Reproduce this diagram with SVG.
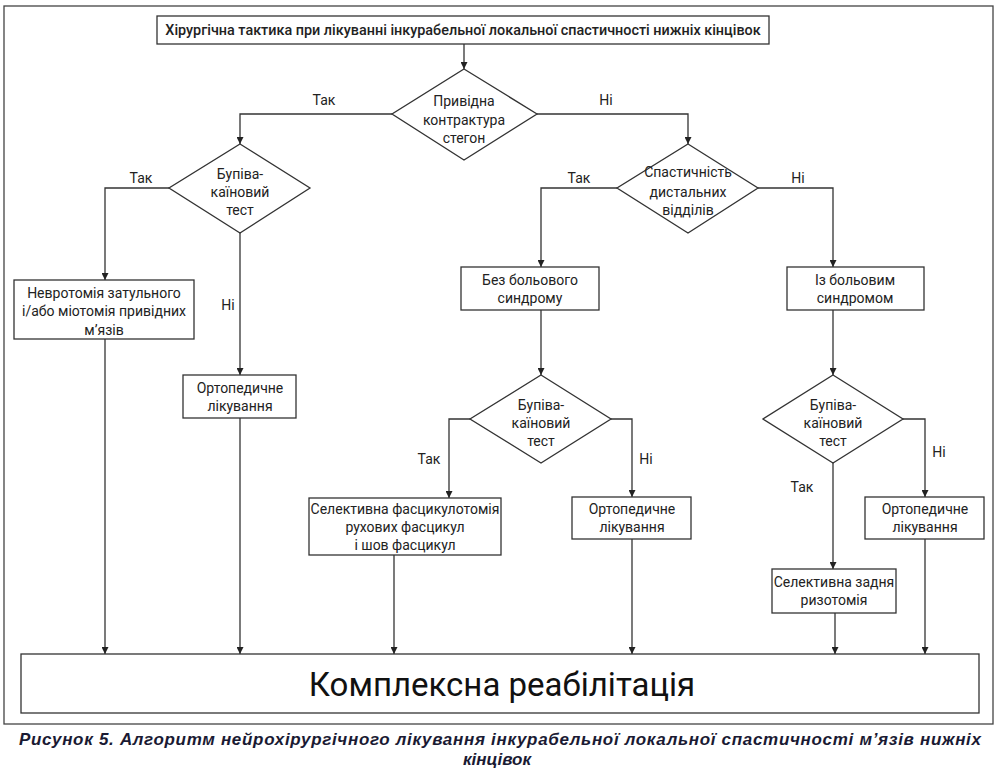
<svg xmlns="http://www.w3.org/2000/svg" width="1000" height="769" viewBox="0 0 1000 769">
<style>
  .box{fill:#fff;stroke:#333;stroke-width:1.3}
  .frame{fill:#fff;stroke:#444;stroke-width:1.3}
  .t{font-family:Roboto,"Liberation Sans",sans-serif;font-size:14px;fill:#222;text-anchor:middle}
  .title{font-weight:500;font-size:14.4px}
  .big{font-size:33px;fill:#111}
  .lbl{font-family:Roboto,"Liberation Sans",sans-serif;font-size:14px;fill:#222;text-anchor:middle}
  .cap{font-family:"Liberation Sans",Arial,sans-serif;font-size:17px;font-weight:bold;font-style:italic;fill:#1a1a33;text-anchor:middle}
  .c{fill:none;stroke:#333;stroke-width:1.3}
</style>
<defs>
  <marker id="ah" viewBox="0 0 10 10" refX="10" refY="5" markerWidth="7" markerHeight="7" markerUnits="userSpaceOnUse" orient="auto">
    <path d="M0,0 L10,5 L0,10 z" fill="#222"/>
  </marker>
</defs>
<rect width="1000" height="769" fill="#fff"/>
<rect x="4" y="6" width="989" height="718" class="frame"/>

<g id="connectors">
  <path class="c" d="M464,44 V69" marker-end="url(#ah)"/>
  <path class="c" d="M392,114 H240 V144" marker-end="url(#ah)"/>
  <path class="c" d="M537,114 H688 V144" marker-end="url(#ah)"/>
  <path class="c" d="M169,188 H105 V280" marker-end="url(#ah)"/>
  <path class="c" d="M240,233 V375" marker-end="url(#ah)"/>
  <path class="c" d="M617,188 H541 V267" marker-end="url(#ah)"/>
  <path class="c" d="M758,188 H833 V267" marker-end="url(#ah)"/>
  <path class="c" d="M541,310 V375" marker-end="url(#ah)"/>
  <path class="c" d="M833,310 V375" marker-end="url(#ah)"/>
  <path class="c" d="M470,419 H449 V498" marker-end="url(#ah)"/>
  <path class="c" d="M611,419 H632 V497" marker-end="url(#ah)"/>
  <path class="c" d="M903,419 H925 V497" marker-end="url(#ah)"/>
  <path class="c" d="M833,463 V569" marker-end="url(#ah)"/>
  <path class="c" d="M105,339 V654" marker-end="url(#ah)"/>
  <path class="c" d="M240,418 V654" marker-end="url(#ah)"/>
  <path class="c" d="M394,555 V654" marker-end="url(#ah)"/>
  <path class="c" d="M632,539 V654" marker-end="url(#ah)"/>
  <path class="c" d="M835,613 V654" marker-end="url(#ah)"/>
  <path class="c" d="M925,539 V654" marker-end="url(#ah)"/>
  <text class="lbl" x="324" y="105">Так</text>
  <text class="lbl" x="606" y="105">Ні</text>
  <text class="lbl" x="141" y="183">Так</text>
  <text class="lbl" x="579" y="183">Так</text>
  <text class="lbl" x="798" y="183">Ні</text>
  <text class="lbl" x="228" y="310">Ні</text>
  <text class="lbl" x="429" y="464">Так</text>
  <text class="lbl" x="646" y="464">Ні</text>
  <text class="lbl" x="939" y="457">Ні</text>
  <text class="lbl" x="802" y="492">Так</text>
</g>

<g id="title">
  <rect x="157" y="16" width="612" height="28" class="box"/>
  <text class="t title" x="463" y="35">Хірургічна тактика при лікуванні інкурабельної локальної спастичності нижніх кінцівок</text>
</g>

<g id="d1">
  <polygon points="464,69 537,114 464,160 392,114" class="box"/>
  <text class="t" x="464" y="106">Привідна</text>
  <text class="t" x="464" y="125">контрактура</text>
  <text class="t" x="464" y="143">стегон</text>
</g>

<g id="d2">
  <polygon points="240,144 310,188 240,233 169,188" class="box"/>
  <text class="t" x="240" y="179">Бупіва-</text>
  <text class="t" x="240" y="197">каїновий</text>
  <text class="t" x="240" y="215">тест</text>
</g>

<g id="d3">
  <polygon points="688,144 758,188 688,233 617,188" class="box"/>
  <text class="t" x="688" y="177">Спастичність</text>
  <text class="t" x="688" y="197">дистальних</text>
  <text class="t" x="688" y="215">відділів</text>
</g>

<g id="n1">
  <rect x="14" y="280" width="180" height="59" class="box"/>
  <text class="t" x="104" y="298">Невротомія затульного</text>
  <text class="t" x="104" y="316">і/або міотомія привідних</text>
  <text class="t" x="104" y="335">м’язів</text>
</g>

<g id="n2">
  <rect x="183" y="375" width="113" height="43" class="box"/>
  <text class="t" x="240" y="393">Ортопедичне</text>
  <text class="t" x="240" y="411">лікування</text>
</g>

<g id="n3">
  <rect x="461" y="267" width="138" height="43" class="box"/>
  <text class="t" x="530" y="285">Без больового</text>
  <text class="t" x="530" y="303">синдрому</text>
</g>

<g id="n4">
  <rect x="787" y="267" width="137" height="43" class="box"/>
  <text class="t" x="855" y="285">Із больовим</text>
  <text class="t" x="855" y="303">синдромом</text>
</g>

<g id="d4">
  <polygon points="541,375 611,419 541,463 470,419" class="box"/>
  <text class="t" x="541" y="410">Бупіва-</text>
  <text class="t" x="541" y="428">каїновий</text>
  <text class="t" x="541" y="446">тест</text>
</g>

<g id="d5">
  <polygon points="833,375 903,419 833,463 763,419" class="box"/>
  <text class="t" x="833" y="410">Бупіва-</text>
  <text class="t" x="833" y="428">каїновий</text>
  <text class="t" x="833" y="446">тест</text>
</g>

<g id="n5">
  <rect x="309" y="498" width="192" height="57" class="box"/>
  <text class="t" x="405" y="514">Селективна фасцикулотомія</text>
  <text class="t" x="405" y="532">рухових фасцикул</text>
  <text class="t" x="405" y="550">і шов фасцикул</text>
</g>

<g id="n6">
  <rect x="572" y="497" width="119" height="42" class="box"/>
  <text class="t" x="632" y="514">Ортопедичне</text>
  <text class="t" x="632" y="532">лікування</text>
</g>

<g id="n7">
  <rect x="865" y="497" width="119" height="42" class="box"/>
  <text class="t" x="925" y="514">Ортопедичне</text>
  <text class="t" x="925" y="532">лікування</text>
</g>

<g id="n8">
  <rect x="772" y="569" width="124" height="44" class="box"/>
  <text class="t" x="834" y="587">Селективна задня</text>
  <text class="t" x="834" y="605">ризотомія</text>
</g>

<g id="n9">
  <rect x="21" y="654" width="958" height="59" class="box"/>
  <text class="t big" x="502" y="696">Комплексна реабілітація</text>
</g>

<g id="caption">
  <text class="cap" x="500" y="745" textLength="962" lengthAdjust="spacing">Рисунок 5. Алгоритм нейрохірургічного лікування інкурабельної локальної спастичності м’язів нижніх</text>
  <text class="cap" x="497" y="765">кінцівок</text>
</g>
</svg>
